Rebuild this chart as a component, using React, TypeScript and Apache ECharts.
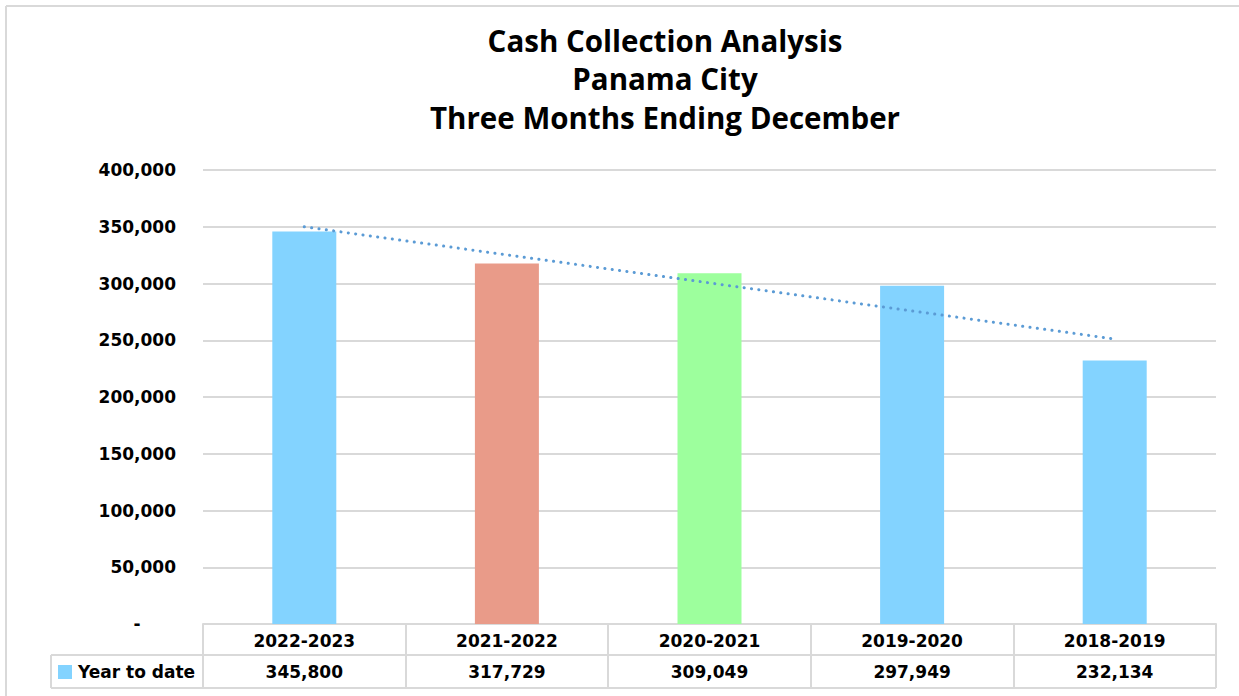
import React, { useEffect, useRef } from "react";
import * as echarts from "echarts";

const categories = ["2022-2023", "2021-2022", "2020-2021", "2019-2020", "2018-2019"];
const yearToDate = [345800, 317729, 309049, 297949, 232134];
const barColors = ["#83D3FF", "#E99B89", "#9DFF9D", "#83D3FF", "#83D3FF"];
const titleLines = ["Cash Collection Analysis", "Panama City", "Three Months Ending December"];
const seriesName = "Year to date";

// Excel-style linear trendline (least squares) over the series values
function linearTrend(values: number[]): number[] {
  const n = values.length;
  const xs = values.map((_, i) => i + 1);
  const mx = xs.reduce((a, b) => a + b, 0) / n;
  const my = values.reduce((a, b) => a + b, 0) / n;
  let num = 0;
  let den = 0;
  xs.forEach((x, i) => {
    num += (x - mx) * (values[i] - my);
    den += (x - mx) * (x - mx);
  });
  const slope = num / den;
  return xs.map((x) => Math.round(my + slope * (x - mx)));
}

const fmt = (v: number) => v.toLocaleString("en-US");

export default function App() {
  const ref = useRef<HTMLDivElement>(null);
  useEffect(() => {
    if (!ref.current) return;
    const chart = echarts.init(ref.current, null, { renderer: "svg" });
    const W = 1239;
    const H = 696;
    const gl = 203;
    const gr = 23;
    const gt = 170;
    const gb = 72;
    const axisBottom = H - gb;
    const row = 31;
    const tableBottom = axisBottom + 64;
    const legendLeft = 51;
    const gridColor = "#D9D9D9";
    const font = "DejaVu Sans";
    const fs = 17;
    chart.setOption({
      animation: false,
      backgroundColor: "#ffffff",
      title: {
        text: titleLines.join("\n"),
        left: 660,
        textAlign: "center",
        top: 16,
        textStyle: {
          fontFamily: "Open Sans",
          fontWeight: "bold",
          fontSize: 29.5,
          lineHeight: 38.5,
          color: "#000000",
        },
      },
      grid: { left: gl, right: gr, top: gt, bottom: gb, containLabel: false },
      xAxis: [
        {
          type: "category",
          data: categories,
          boundaryGap: true,
          axisLine: { show: true, lineStyle: { color: gridColor, width: 2 } },
          axisTick: { show: true, length: 64, lineStyle: { color: gridColor, width: 2 } },
          axisLabel: {
            margin: 8,
            fontFamily: font,
            fontWeight: "bold",
            fontSize: fs,
            color: "#000000",
          },
        },
        {
          type: "category",
          data: yearToDate.map(fmt),
          position: "bottom",
          offset: row,
          boundaryGap: true,
          axisLine: { show: true, lineStyle: { color: gridColor, width: 2 } },
          axisTick: { show: false },
          axisLabel: {
            margin: 8,
            fontFamily: font,
            fontWeight: "bold",
            fontSize: fs,
            color: "#000000",
          },
        },
      ],
      yAxis: {
        type: "value",
        min: 0,
        max: 400000,
        interval: 50000,
        axisLine: { show: false },
        axisTick: { show: false },
        splitLine: { show: true, lineStyle: { color: gridColor, width: 2 } },
        axisLabel: {
          margin: 27,
          fontFamily: font,
          fontWeight: "bold",
          fontSize: fs,
          color: "#000000",
          formatter: (v: number) => (v === 0 ? "-      " : fmt(v)),
        },
      },
      series: [
        {
          name: seriesName,
          type: "bar",
          xAxisIndex: 0,
          barWidth: 64,
          data: yearToDate.map((v, i) => ({ value: v, itemStyle: { color: barColors[i] } })),
        },
        {
          name: "Trend",
          type: "line",
          xAxisIndex: 0,
          data: linearTrend(yearToDate),
          showSymbol: false,
          symbol: "none",
          z: 5,
          lineStyle: { color: "#5B9BD5", width: 3, type: [0.1, 7.3], cap: "round" },
        },
      ],
      graphic: [
        { type: "line", shape: { x1: 6, y1: 6, x2: W, y2: 6 }, style: { stroke: gridColor, lineWidth: 2 } },
        { type: "line", shape: { x1: 6, y1: 6, x2: 6, y2: H }, style: { stroke: gridColor, lineWidth: 2 } },
        {
          type: "line",
          shape: { x1: legendLeft, y1: axisBottom + row, x2: gl, y2: axisBottom + row },
          style: { stroke: gridColor, lineWidth: 2 },
        },
        {
          type: "line",
          shape: { x1: legendLeft, y1: tableBottom, x2: W - gr, y2: tableBottom },
          style: { stroke: gridColor, lineWidth: 2 },
        },
        {
          type: "line",
          shape: { x1: legendLeft, y1: axisBottom + row, x2: legendLeft, y2: tableBottom },
          style: { stroke: gridColor, lineWidth: 2 },
        },
        {
          type: "rect",
          shape: { x: 58, y: axisBottom + row + 10, width: 14, height: 14 },
          style: { fill: barColors[0] },
        },
        {
          type: "text",
          x: 78,
          y: axisBottom + row + 17,
          style: {
            text: seriesName,
            fontFamily: font,
            fontWeight: "bold",
            fontSize: fs,
            fill: "#000000",
            verticalAlign: "middle",
          },
        },
      ],
    });
    return () => chart.dispose();
  }, []);
  return (
    <div
      ref={ref}
      style={{ position: "absolute", left: 0, top: 0, width: 1239, height: 696 }}
    />
  );
}
